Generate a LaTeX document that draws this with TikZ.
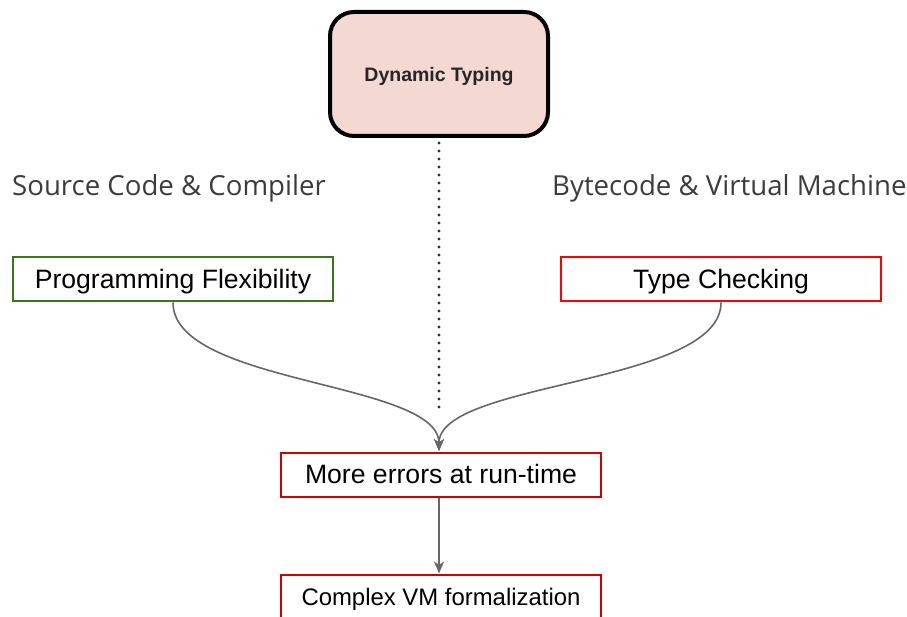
\documentclass[tikz,border=0pt]{standalone}
\usepackage{fontspec}
\setmainfont{Liberation Sans}
\newfontfamily\headfont{Open Sans}
\usetikzlibrary{arrows.meta}

\definecolor{typefill}{HTML}{F4D9D2}
\definecolor{flexgreen}{HTML}{38761D}
\definecolor{brightred}{HTML}{FF0000}
\definecolor{darkred}{HTML}{CC0000}
\definecolor{linegray}{HTML}{666666}
\definecolor{headgray}{HTML}{3C3C3C}
\definecolor{dotgray}{HTML}{333333}

\tikzset{
  topbox/.style={draw=black, line width=4pt, rounded corners=24pt, fill=typefill,
    minimum width=218pt, minimum height=124pt, inner sep=0pt,
    text height=0pt, text depth=0pt,
    font=\fontsize{19.5}{23}\selectfont\bfseries, text=black!85},
  plainbox/.style={draw, line width=2pt, fill=white, minimum width=320pt,
    minimum height=44pt, inner sep=0pt, text height=0pt, text depth=0pt,
    font=\fontsize{26.6}{32}\selectfont},
  heading/.style={anchor=base west, inner sep=0pt, text=headgray,
    font=\headfont\fontsize{27.6}{33}\selectfont},
  flow/.style={draw=linegray, line width=1.6pt,
    -{Stealth[length=12pt,width=10pt,inset=3.5pt]}},
  splitline/.style={draw=dotgray, line width=3.4pt, line cap=round,
    dash pattern=on 0pt off 8pt}
}

\begin{document}
\begin{tikzpicture}[x=1pt, y=-1pt]
  \clip (0,0) rectangle (907,617);
  \fill[white] (0,0) rectangle (907,617);

  % central concept
  \node[topbox] (dyn) at (439,74) {\raisebox{-7.5pt}{Dynamic Typing}};

  % dotted divider between the two sides
  \coordinate (divtop) at (439,143);
  \coordinate (divbot) at (439,407);
  \draw[splitline] (divtop) -- (divbot);

  % side headings
  \node[heading] (src) at (12,196) {Source Code \& Compiler};
  \node[heading] (vm) at (552,196) {Bytecode \& Virtual Machine};

  % boxes
  \node[plainbox, draw=flexgreen] (flex) at (173,279.5) {\raisebox{-9pt}{Programming Flexibility}};
  \node[plainbox, draw=brightred] (check) at (721,279.5) {\raisebox{-9pt}{Type Checking}};
  \node[plainbox, draw=darkred] (errors) at (441,474.5) {\raisebox{-9pt}{More errors at run-time}};
  \node[plainbox, draw=darkred, font=\fontsize{23.9}{29}\selectfont] (complex) at (441,596.5) {\raisebox{-9pt}{Complex VM formalization}};

  % connectors
  \coordinate (meet) at (439,451);
  \draw[flow] (flex.south) .. controls (173,385) and (439,381) .. (meet);
  \draw[flow] (check.south) .. controls (721,385) and (439,381) .. (meet);
  \draw[flow] (errors.south -| meet) -- (complex.north -| meet);
\end{tikzpicture}
\end{document}
